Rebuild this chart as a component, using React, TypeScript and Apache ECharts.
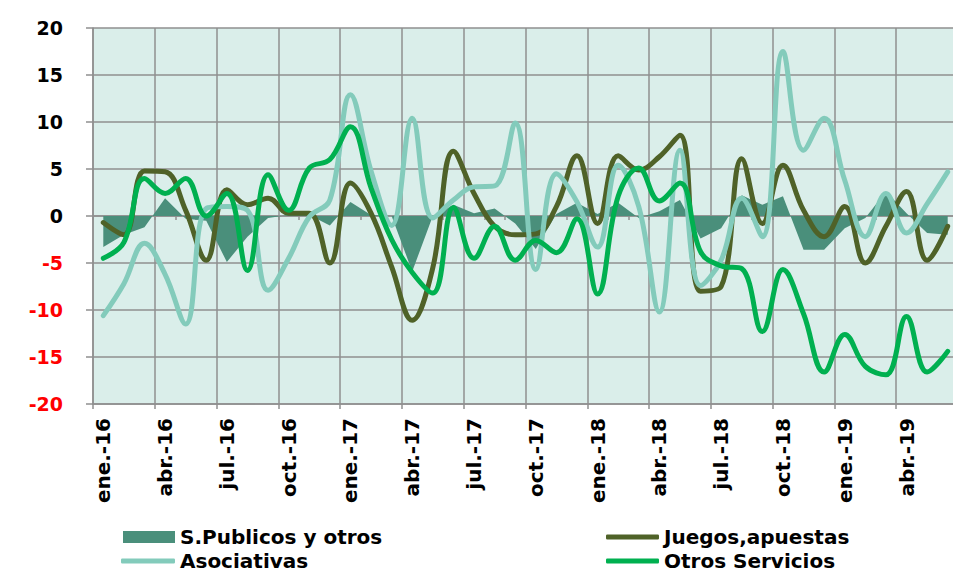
import React, { useEffect, useRef } from "react";
import * as echarts from "echarts";

const categories = [
  "ene.-16", "feb.-16", "mar.-16", "abr.-16", "may.-16", "jun.-16", "jul.-16", "ago.-16", "sep.-16", "oct.-16", "nov.-16", "dic.-16",
  "ene.-17", "feb.-17", "mar.-17", "abr.-17", "may.-17", "jun.-17", "jul.-17", "ago.-17", "sep.-17", "oct.-17", "nov.-17", "dic.-17",
  "ene.-18", "feb.-18", "mar.-18", "abr.-18", "may.-18", "jun.-18", "jul.-18", "ago.-18", "sep.-18", "oct.-18", "nov.-18", "dic.-18",
  "ene.-19", "feb.-19", "mar.-19", "abr.-19", "may.-19", "jun.-19",
];

const sPublicos = [
  -3.3, -2.0, -1.2, 1.9, -0.3, -0.5, -4.9, -2.2, -0.2, 0.1, 0.1, -1.0,
  1.5, 0.1, 0.0, -5.9, 0.0, 1.2, 0.3, 0.8, -0.8, -3.5, 0.2, 1.4,
  0.2, 1.4, -0.2, 0.5, 1.7, -2.4, -1.3, 2.2, 1.2, 2.1, -3.6, -3.6,
  -1.3, -0.2, 2.6, 0.3, -1.8, -2.0,
];

const juegos = [
  -0.7, -2.0, 4.8, 4.7, 0.6, -4.7, 2.8, 1.2, 1.9, 0.3, 0.3, -5.0,
  3.5, 0.3, -5.4, -11.1, -5.5, 6.9, 2.4, -1.1, -2.0, -1.9, 1.0, 6.4,
  -0.8, 6.4, 4.9, 6.3, 8.6, -8.0, -7.5, 6.1, -0.8, 5.4, 0.6, -2.2,
  1.0, -5.0, -1.1, 2.6, -4.7, -1.1,
];

const asociativas = [
  -10.6, -7.2, -2.9, -6.2, -11.5, 0.8, 1.0, 0.6, -7.9, -4.5, -0.1, 1.7,
  12.9, 4.8, -1.0, 10.4, -0.2, 1.7, 3.1, 3.2, 9.9, -5.7, 4.5, 1.5,
  -3.3, 5.4, 1.0, -10.2, 7.0, -7.4, -4.7, 1.9, -2.2, 17.5, 7.0, 10.4,
  3.8, -2.2, 2.4, -1.8, 1.3, 4.7,
];

const otros = [
  -4.5, -2.8, 4.0, 2.4, 4.0, 0.0, 2.4, -5.8, 4.4, 0.6, 5.1, 6.0,
  9.5, 3.0, -2.5, -6.0, -8.2, 0.9, -4.5, -1.1, -4.7, -2.6, -3.9, -0.3,
  -8.3, 2.1, 5.1, 1.6, 3.5, -3.8, -5.3, -5.6, -12.3, -5.7, -10.4, -16.6,
  -12.6, -16.0, -16.9, -10.7, -16.6, -14.4,
];

const yMin = -20;
const yMax = 20;
const yInterval = 5;

const FONT = "DejaVu Sans";
const GRID_COLOR = "#8f8f8f";
const C_AREA = "#4a8f7b";
const C_JUEGOS = "#4f6228";
const C_ASOC = "#83cbbb";
const C_OTROS = "#00b050";

export default function App() {
  const ref = useRef<HTMLDivElement>(null);
  useEffect(() => {
    document.body.style.margin = "0";
    const chart = echarts.init(ref.current as HTMLDivElement, undefined, { renderer: "svg" });
    const legendText = {
      fontFamily: FONT,
      fontWeight: "bold" as const,
      fontSize: 20,
      color: "#000",
      lineHeight: 20,
    };
    const lineStyle = { color: GRID_COLOR, width: 1.5 };
    chart.setOption({
      animation: false,
      backgroundColor: "#ffffff",
      grid: {
        left: 93,
        top: 28,
        right: 0,
        bottom: 168,
        show: true,
        backgroundColor: "#daeeea",
        borderWidth: 0,
      },
      legend: [
        {
          left: 123, top: 527, padding: 0, itemWidth: 52, itemHeight: 12,
          textStyle: legendText,
          data: [{ name: "S.Publicos y otros", icon: "rect" }],
        },
        {
          left: 121, top: 551, padding: 0, itemWidth: 54, itemHeight: 5,
          textStyle: legendText,
          data: [{ name: "Asociativas", icon: "roundRect" }],
        },
        {
          left: 606, top: 527, padding: 0, itemWidth: 53, itemHeight: 5,
          textStyle: legendText,
          data: [{ name: "Juegos,apuestas", icon: "roundRect" }],
        },
        {
          left: 606, top: 551, padding: 0, itemWidth: 53, itemHeight: 5,
          textStyle: legendText,
          data: [{ name: "Otros Servicios", icon: "roundRect" }],
        },
      ],
      xAxis: [
        {
          type: "category",
          data: categories,
          boundaryGap: true,
          axisLine: { show: true, onZero: false, lineStyle },
          axisTick: { show: true, interval: 2, length: 5, lineStyle },
          axisLabel: {
            interval: 2,
            rotate: 90,
            margin: 14,
            fontFamily: FONT,
            fontWeight: "bold",
            fontSize: 20,
            color: "#000",
          },
          splitLine: { show: true, interval: 2, lineStyle },
        },
        {
          type: "category",
          data: categories,
          boundaryGap: true,
          position: "top",
          axisLine: { show: true, onZero: true, lineStyle },
          axisTick: { show: true, inside: true, interval: 0, length: 4, lineStyle },
          axisLabel: { show: false },
          splitLine: { show: false },
        },
      ],
      yAxis: {
        type: "value",
        min: yMin,
        max: yMax,
        interval: yInterval,
        axisLine: { show: true, lineStyle },
        axisTick: { show: true, length: 7, lineStyle },
        axisLabel: {
          margin: 30,
          fontFamily: FONT,
          fontWeight: "bold",
          fontSize: 19,
          color: (v: any) => (Number(v) < 0 ? "#ff0000" : "#000000"),
        },
        splitLine: { show: true, lineStyle },
      },
      series: [
        {
          name: "S.Publicos y otros",
          type: "line",
          data: sPublicos,
          symbol: "none",
          color: C_AREA,
          lineStyle: { width: 0, color: C_AREA },
          areaStyle: { color: C_AREA, opacity: 1 },
        },
        {
          name: "Juegos,apuestas",
          type: "line",
          data: juegos,
          smooth: 0.4,
          symbol: "none",
          color: C_JUEGOS,
          lineStyle: { width: 5, color: C_JUEGOS, cap: "round" },
        },
        {
          name: "Asociativas",
          type: "line",
          data: asociativas,
          smooth: 0.4,
          symbol: "none",
          color: C_ASOC,
          lineStyle: { width: 5, color: C_ASOC, cap: "round" },
        },
        {
          name: "Otros Servicios",
          type: "line",
          data: otros,
          smooth: 0.4,
          symbol: "none",
          color: C_OTROS,
          lineStyle: { width: 5, color: C_OTROS, cap: "round" },
        },
      ],
    });
    return () => chart.dispose();
  }, []);
  return (
    <div style={{ width: 953, height: 572, overflow: "hidden", background: "#fff" }}>
      <div ref={ref} style={{ width: 958, height: 572 }} />
    </div>
  );
}
